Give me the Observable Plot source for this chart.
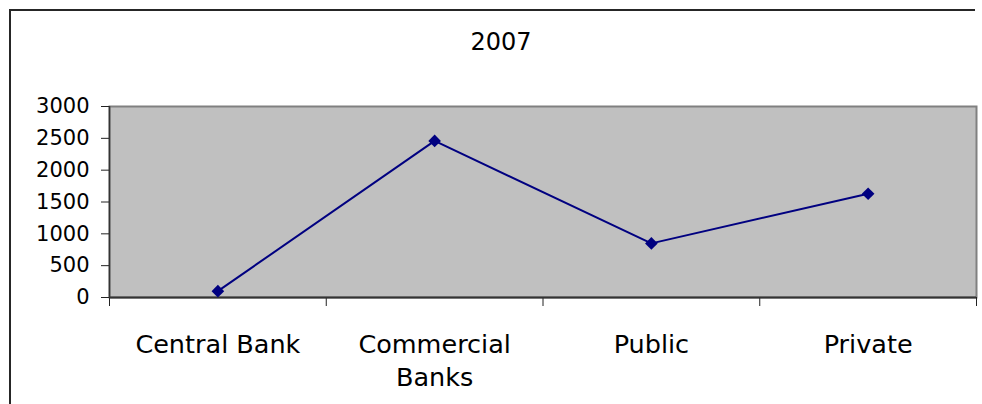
<!DOCTYPE html>
<html>
<head>
<meta charset="utf-8">
<script src="https://cdn.jsdelivr.net/npm/d3@7"></script>
<script src="https://cdn.jsdelivr.net/npm/@observablehq/plot@0.6"></script>
<style>
  html, body { margin: 0; padding: 0; background: #fff; width: 982px; height: 404px; overflow: hidden; }
  #wrap { position: relative; width: 982px; height: 404px; overflow: hidden; font-family: "DejaVu Sans", sans-serif; }
  #chart { position: absolute; left: 0; top: 0; }
  #edgeTop { position: absolute; left: 9px; top: 9px; width: 966px; height: 2px; background: #262626; }
  #edgeLeft { position: absolute; left: 9px; top: 9px; width: 2px; height: 395px; background: #262626; }
  #title { position: absolute; left: 0; top: 30px; width: 1002px; text-align: center; font-size: 24px; line-height: 24px; color: #000; }
</style>
</head>
<body>
<div id="wrap">
  <div id="chart"></div>
  <div id="edgeTop"></div>
  <div id="edgeLeft"></div>
  <div id="title"></div>
</div>
<script>
// 2007 totals by sector
const year = "2007";
const categories = ["Central Bank", "Commercial Banks", "Public", "Private"];
const values = [100, 2460, 850, 1630];
const yTicks = [0, 500, 1000, 1500, 2000, 2500, 3000];

// each category sits in the middle of its slot on a 0..n axis
const data = categories.map((name, i) => ({name, pos: i + 0.5, value: values[i]}));
const slotEdges = d3.range(categories.length + 1);

document.getElementById("title").textContent = year;

const chart = Plot.plot({
  width: 982,
  height: 404,
  marginLeft: 109,
  marginRight: 6,
  marginTop: 106,
  marginBottom: 107,
  style: {background: "transparent", fontFamily: "DejaVu Sans, sans-serif", color: "#000"},
  x: {domain: [0, categories.length]},
  y: {domain: [0, 3000]},
  marks: [
    Plot.frame({fill: "#c0c0c0", stroke: "#808080", strokeWidth: 2}),
    Plot.axisY({ticks: yTicks, tickFormat: d3.format("d"), tickSize: 8, tickPadding: 12, fontSize: 21, label: null, stroke: "#222"}),
    Plot.axisX({ticks: slotEdges, tickSize: 9, tickFormat: () => "", label: null, stroke: "#222"}),
    Plot.ruleY([0], {stroke: "#333", strokeWidth: 2}),
    Plot.ruleX([0], {stroke: "#333", strokeWidth: 1.5}),
    Plot.line(data, {x: "pos", y: "value", stroke: "#000080", strokeWidth: 2}),
    Plot.dot(data, {x: "pos", y: "value", symbol: "diamond2", r: 5.7, fill: "#000080", stroke: "none"}),
    Plot.text(data, {
      x: "pos",
      text: "name",
      frameAnchor: "bottom",
      lineAnchor: "top",
      dy: 31,
      fontSize: 25.5,
      lineWidth: 7,
      lineHeight: 1.33,
      fill: "#000"
    })
  ]
});

document.getElementById("chart").appendChild(chart);
</script>
</body>
</html>
